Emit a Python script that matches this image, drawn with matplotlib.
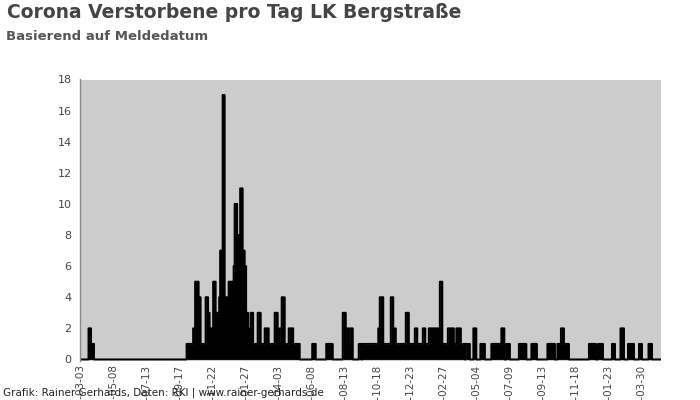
"""Daily Covid-19 deaths in Landkreis Bergstrasse, by reporting date."""

import matplotlib
matplotlib.use('Agg')
import matplotlib.pyplot as plt
import pandas as pd

TITLE = 'Corona Verstorbene pro Tag LK Bergstraße'
SUBTITLE = 'Basierend auf Meldedatum'
FOOTER = 'Grafik: Rainer Gerhards, Daten: RKI | www.rainer-gerhards.de'

FIRST_DAY = '2020-03-03'
LAST_DAY = '2023-05-08'
TICK_EVERY = '66D'

# runs of days: first day, number of days, deaths per day
run_start = [
    '2020-03-20', '2020-03-25',
    '2020-10-02', '2020-10-15', '2020-10-19', '2020-10-26', '2020-10-30',
    '2020-11-09', '2020-11-14', '2020-11-17', '2020-11-22', '2020-11-24',
    '2020-11-29', '2020-12-06', '2020-12-08', '2020-12-13', '2020-12-17',
    '2020-12-25', '2021-01-04', '2021-01-06', '2021-01-11', '2021-01-17',
    '2021-01-22', '2021-01-26', '2021-01-29', '2021-02-02', '2021-02-07',
    '2021-02-12', '2021-02-21', '2021-02-27', '2021-03-07', '2021-03-15',
    '2021-03-27', '2021-04-02', '2021-04-06', '2021-04-10', '2021-04-16',
    '2021-04-24', '2021-05-03', '2021-06-10', '2021-07-08', '2021-08-10',
    '2021-08-16', '2021-08-21', '2021-08-24', '2021-09-11', '2021-09-18',
    '2021-10-20', '2021-10-23', '2021-10-30', '2021-11-14', '2021-11-19',
    '2021-11-24', '2021-12-14', '2021-12-20', '2022-01-01', '2022-01-06',
    '2022-01-17', '2022-01-22', '2022-01-29', '2022-02-20', '2022-02-25',
    '2022-03-08', '2022-03-20', '2022-03-25', '2022-04-03', '2022-04-13',
    '2022-04-28', '2022-05-12', '2022-06-03', '2022-06-23', '2022-07-03',
    '2022-07-28', '2022-08-22', '2022-09-23', '2022-10-13', '2022-10-20',
    '2022-10-26', '2022-12-15', '2023-01-02', '2023-01-30', '2023-02-16',
    '2023-03-03', '2023-03-25', '2023-04-13',
]
run_days = [
    5, 6,
    13, 4, 7, 4, 10,
    5, 3, 5, 2, 5,
    7, 2, 5, 4, 8,
    10, 2, 5, 6, 5,
    4, 3, 4, 5, 5,
    9, 6, 8, 8, 12,
    6, 4, 4, 6, 8,
    9, 13, 7, 13, 6,
    5, 3, 6, 5, 32,
    3, 7, 15, 5, 5,
    20, 6, 12, 5, 11,
    5, 7, 22, 5, 11,
    12, 5, 9, 8, 8,
    6, 9, 20, 6, 7,
    15, 11, 15, 7, 6,
    10, 14, 10, 6, 7,
    12, 6, 7,
]
run_deaths = [
    2, 1,
    1, 2, 5, 4, 1,
    4, 3, 2, 1, 5,
    3, 4, 7, 17, 4,
    5, 6, 10, 8, 11,
    7, 6, 3, 2, 3,
    1, 3, 1, 2, 1,
    3, 1, 2, 4, 1,
    2, 1, 1, 1, 3,
    2, 1, 2, 1, 1,
    2, 4, 1, 4, 2,
    1, 3, 1, 2, 1,
    2, 1, 2, 5, 1,
    2, 1, 2, 1, 1,
    2, 1, 1, 2, 1,
    1, 1, 1, 1, 2,
    1, 1, 1, 1, 2,
    1, 1, 1,
]


def daily_series():
    """Expand the runs into one value per day."""
    days = pd.date_range(FIRST_DAY, LAST_DAY, freq='D')
    deaths = pd.Series(0, index=days)
    for start, count, value in zip(run_start, run_days, run_deaths):
        deaths[pd.date_range(start, periods=count, freq='D')] = value
    return deaths


def make_plot():
    deaths = daily_series()

    fig = plt.figure(figsize=(7, 4), dpi=100)
    ax = fig.add_axes([80 / 700, 1 - 361 / 400, 581 / 700, 281.5 / 400])
    ax.set_facecolor('#cccccc')

    ax.fill_between(deaths.index, deaths.values, step='post',
                    color='black', lw=0)
    ax.plot(deaths.index, deaths.values, drawstyle='steps-post',
            color='black', lw=1.4)

    ax.set_xlim(deaths.index[0], deaths.index[-1])
    ax.set_ylim(-0.1, 18)
    ax.set_yticks(range(0, 19, 2))

    ticks = pd.date_range(FIRST_DAY, LAST_DAY, freq=TICK_EVERY)
    ax.set_xticks(ticks)
    ax.set_xticklabels([t.strftime('%Y-%m-%d') for t in ticks], rotation=90)
    ax.tick_params(axis='both', length=0, colors='#444444')
    ax.tick_params(axis='x', pad=2.5, labelsize=7.5)
    ax.tick_params(axis='y', pad=6, labelsize=8)

    for side in ['top', 'right', 'bottom']:
        ax.spines[side].set_visible(False)
    ax.spines['left'].set_color('#888888')
    ax.spines['left'].set_linewidth(1)

    fig.text(7 / 700, 1 - 13 / 400, TITLE, fontsize=13.5, fontweight='bold',
             color='#444444', va='center')
    fig.text(6 / 700, 1 - 36 / 400, SUBTITLE, fontsize=9.5,
             fontweight='bold', color='#555555', va='center')
    fig.text(3 / 700, 1 - 393 / 400, FOOTER, fontsize=7.5, color='#222222',
             va='center')

    fig.savefig('out.png', dpi=100)


if __name__ == '__main__':
    make_plot()
